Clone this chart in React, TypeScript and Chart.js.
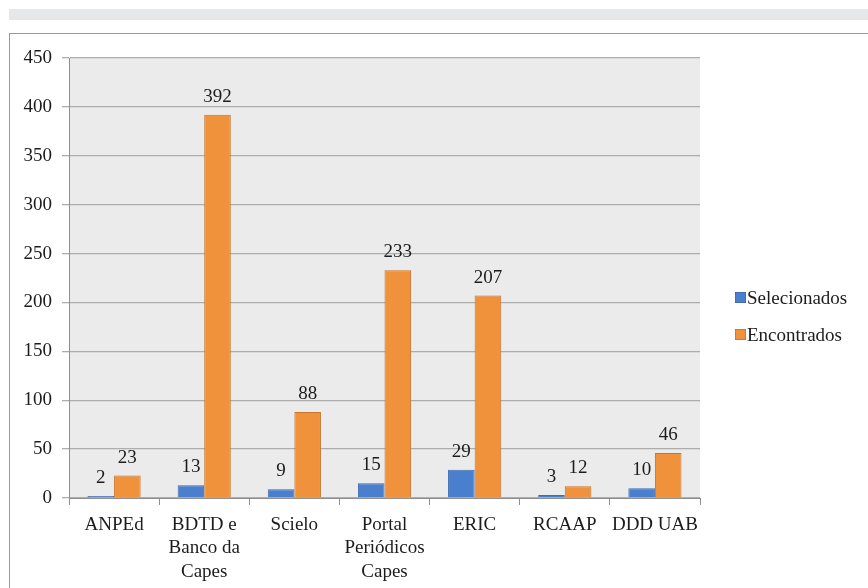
import React, { useEffect, useRef } from "react";
import { Chart, registerables } from "chart.js";

Chart.register(...registerables);

const categories: (string | string[])[] = [
  "ANPEd",
  ["BDTD e", "Banco da", "Capes"],
  "Scielo",
  ["Portal", "Periódicos", "Capes"],
  "ERIC",
  "RCAAP",
  "DDD UAB",
];
const selecionados = [2, 13, 9, 15, 29, 3, 10];
const encontrados = [23, 392, 88, 233, 207, 12, 46];
const seriesNames = ["Selecionados", "Encontrados"];
const yTicks = [0, 50, 100, 150, 200, 250, 300, 350, 400, 450];

const FONT = "\"Liberation Serif\", serif";
const BLUE = "#4a7fcd";
const BLUE_BORDER = "#3c6cb3";
const ORANGE = "#f0913b";
const ORANGE_BORDER = "#c8742c";
const TEXT = "#1c1c1c";

Chart.defaults.font.family = FONT;
Chart.defaults.font.size = 19;

const plotBg = {
  id: "plotBg",
  beforeDraw(chart: any) {
    const { ctx, chartArea } = chart;
    ctx.save();
    ctx.fillStyle = "#ebebeb";
    ctx.fillRect(chartArea.left, chartArea.top, chartArea.right - chartArea.left, chartArea.bottom - chartArea.top);
    ctx.restore();
  },
};

const valueLabels = {
  id: "valueLabels",
  afterDatasetsDraw(chart: any) {
    const { ctx } = chart;
    ctx.save();
    ctx.font = `19px ${FONT}`;
    ctx.fillStyle = TEXT;
    ctx.textAlign = "center";
    ctx.textBaseline = "alphabetic";
    chart.data.datasets.forEach((ds: any, di: number) => {
      const meta = chart.getDatasetMeta(di);
      meta.data.forEach((el: any, i: number) => {
        ctx.fillText(String(ds.data[i]), el.x, el.y - 13);
      });
    });
    ctx.restore();
  },
};

const customLegend = {
  id: "customLegend",
  afterDraw(chart: any) {
    const { ctx, chartArea } = chart;
    ctx.save();
    ctx.font = `19px ${FONT}`;
    ctx.textBaseline = "middle";
    ctx.textAlign = "left";
    chart.data.datasets.forEach((ds: any, i: number) => {
      const x = chartArea.right + 35;
      const cy = chartArea.top + 240 + i * 37;
      ctx.fillStyle = ds.backgroundColor;
      ctx.fillRect(x, cy - 6, 11, 11);
      ctx.strokeStyle = ds.borderColor;
      ctx.lineWidth = 0.8;
      ctx.strokeRect(x + 0.4, cy - 5.6, 10.2, 10.2);
      ctx.fillStyle = TEXT;
      ctx.fillText(ds.label, x + 12, cy + 1);
    });
    ctx.restore();
  },
};

export default function App() {
  const ref = useRef<HTMLCanvasElement>(null);
  useEffect(() => {
    if (!ref.current) return;
    const chart = new Chart(ref.current, {
      type: "bar",
      data: {
        labels: categories,
        datasets: [
          {
            label: seriesNames[0],
            data: selecionados,
            backgroundColor: BLUE,
            borderColor: BLUE_BORDER,
            borderWidth: 1,
            categoryPercentage: 0.59,
            barPercentage: 1,
          },
          {
            label: seriesNames[1],
            data: encontrados,
            backgroundColor: ORANGE,
            borderColor: ORANGE_BORDER,
            borderWidth: 1,
            categoryPercentage: 0.59,
            barPercentage: 1,
          },
        ],
      },
      options: {
        animation: false,
        responsive: false,
        devicePixelRatio: 1,
        font: { family: FONT, size: 19 },
        layout: { padding: { left: 0, right: 168, top: 24, bottom: 0 } },
        plugins: { legend: { display: false }, tooltip: { enabled: false } },
        scales: {
          x: {
            afterFit: (s: any) => {
              s.height = 90;
            },
            grid: {
              offset: true,
              drawOnChartArea: false,
              tickLength: 7,
              color: "#8f8f8f",
            },
            border: { color: "#8f8f8f", width: 1 },
            ticks: {
              autoSkip: false,
              maxRotation: 0,
              minRotation: 0,
              padding: 8,
              color: TEXT,
              font: { family: FONT, size: 19, lineHeight: 1.24 },
            },
          },
          y: {
            min: 0,
            max: 450,
            afterFit: (s: any) => {
              s.width = 59;
            },
            afterBuildTicks: (s: any) => {
              s.ticks = yTicks.map((v) => ({ value: v }));
            },
            grid: { color: "#adadad", tickLength: 7, lineWidth: 1.3 },
            border: { color: "#8f8f8f", width: 1 },
            ticks: {
              padding: 10,
              color: TEXT,
              font: { family: FONT, size: 19 },
            },
          },
        },
      },
      plugins: [plotBg, valueLabels, customLegend],
    } as any);
    return () => chart.destroy();
  }, []);

  return (
    <div
      style={{
        position: "fixed",
        left: 0,
        top: 0,
        width: 868,
        height: 588,
        overflow: "hidden",
        background: "#fff",
      }}
    >
      <div
        style={{
          position: "absolute",
          left: 9,
          top: 9,
          width: 870,
          height: 11,
          background: "#e6e7e9",
        }}
      />
      <div
        style={{
          position: "absolute",
          left: 9,
          top: 33,
          width: 870,
          height: 570,
          borderTop: "1px solid #9a9a9a",
          borderLeft: "1px solid #9a9a9a",
        }}
      />
      <canvas
        ref={ref}
        width={858}
        height={554}
        style={{ position: "absolute", left: 10, top: 34, width: 858, height: 554 }}
      />
    </div>
  );
}
